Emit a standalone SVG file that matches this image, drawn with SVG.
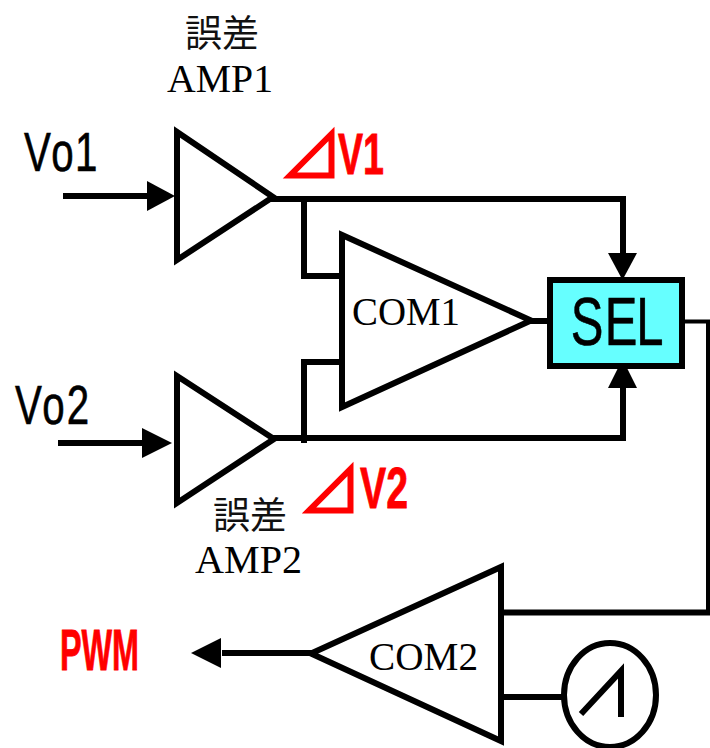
<svg xmlns="http://www.w3.org/2000/svg" width="710" height="748" viewBox="0 0 710 748">
<style>
.s{fill:none;stroke:#000;stroke-width:6}
.tri{fill:#fff;stroke:#000;stroke-width:6;stroke-miterlimit:10}
.d{fill:none;stroke:#f00;stroke-width:6;stroke-miterlimit:10}
.h{fill:#000;stroke:none}
.serif{font-family:"Liberation Serif","Noto Sans CJK JP",serif;font-size:40px;fill:#000}
.cjk{font-family:"Noto Sans CJK JP",sans-serif;font-size:37px;fill:#111}
.goth{font-family:"Liberation Sans","Noto Sans CJK JP",sans-serif;font-size:56px;fill:#000;stroke:#000;stroke-width:.6}
.red{font-family:"Liberation Sans","Noto Sans CJK JP",sans-serif;font-weight:bold;font-size:58px;fill:#f00;stroke:#f00;stroke-width:.8}
</style>
<rect width="710" height="748" fill="#fff"/>
<g id="connectors">
<path class="s" d="M63 196H150"/>
<path class="h" d="M147 181L175 196L147 211Z"/>
<path class="s" d="M58 443H145"/>
<path class="h" d="M142 428L172 443L142 458Z"/>
<path class="s" d="M270 199H623V255"/>
<path class="h" d="M608 253H637L622.500 280Z"/>
<path class="s" d="M304 199V276H342"/>
<path class="s" d="M270 438H623V385"/>
<path class="h" d="M608 388H637L622.500 359Z"/>
<path class="s" d="M304 443V362H342"/>
<path class="s" d="M527 321H550"/>
<path d="M682 321.500H708V612" fill="none" stroke="#000" stroke-width="4"/>
<path class="s" d="M501 612.500H710"/>
<path class="s" d="M501 697H565"/>
<path class="s" d="M222 653H312"/>
<path class="h" d="M221 638V668L191 653Z"/>
</g>
<g id="amp1">
<path class="tri" d="M177 132V260L273 197Z"/>
</g>
<g id="amp2">
<path class="tri" d="M177 376V503L274 439Z"/>
</g>
<g id="com1">
<path class="tri" d="M342 235V407L531 320.500Z"/>
<text class="serif" x="352" y="325" textLength="108" lengthAdjust="spacingAndGlyphs">COM1</text>
</g>
<g id="sel">
<rect x="550" y="280" width="132" height="86" fill="#66FFFF" stroke="#000" stroke-width="6"/>
<text class="goth" transform="translate(573 345) scale(.72 1)" style="font-size:68px" x="-3 44 88" y="0">SEL</text>
</g>
<g id="com2">
<path class="tri" d="M501 567V741L311 653.500Z"/>
<text class="serif" x="369" y="670" textLength="109" lengthAdjust="spacingAndGlyphs">COM2</text>
</g>
<g id="ramp">
<ellipse cx="610" cy="695" rx="46" ry="52" fill="#fff" stroke="#000" stroke-width="6"/>
<path class="s" d="M581 714L621 671V717"/>
</g>
<g id="label-amp1">
<text class="cjk" x="185" y="47" textLength="74">誤差</text>
<text class="serif" x="167" y="92" textLength="106" lengthAdjust="spacingAndGlyphs">AMP1</text>
</g>
<g id="label-amp2">
<text class="cjk" x="213" y="529" textLength="74">誤差</text>
<text class="serif" x="195" y="573" textLength="107" lengthAdjust="spacingAndGlyphs">AMP2</text>
</g>
<g id="label-vo1"><text class="goth" transform="translate(24 171) scale(.72 1)" x="0 38 71" y="0">Vo1</text></g>
<g id="label-vo2"><text class="goth" transform="translate(15 424) scale(.72 1)" x="0 38 72" y="0">Vo2</text></g>
<g id="label-dv1">
<path class="d" d="M331.500 134V175.500H290Z"/>
<text class="red" x="338" y="174" textLength="46" lengthAdjust="spacingAndGlyphs">V1</text>
</g>
<g id="label-dv2">
<path class="d" d="M350.500 469V510.500H309Z"/>
<text class="red" x="360" y="508" textLength="48" lengthAdjust="spacingAndGlyphs">V2</text>
</g>
<g id="label-pwm"><text class="red" x="60" y="670" textLength="79" lengthAdjust="spacingAndGlyphs">PWM</text></g>
</svg>
